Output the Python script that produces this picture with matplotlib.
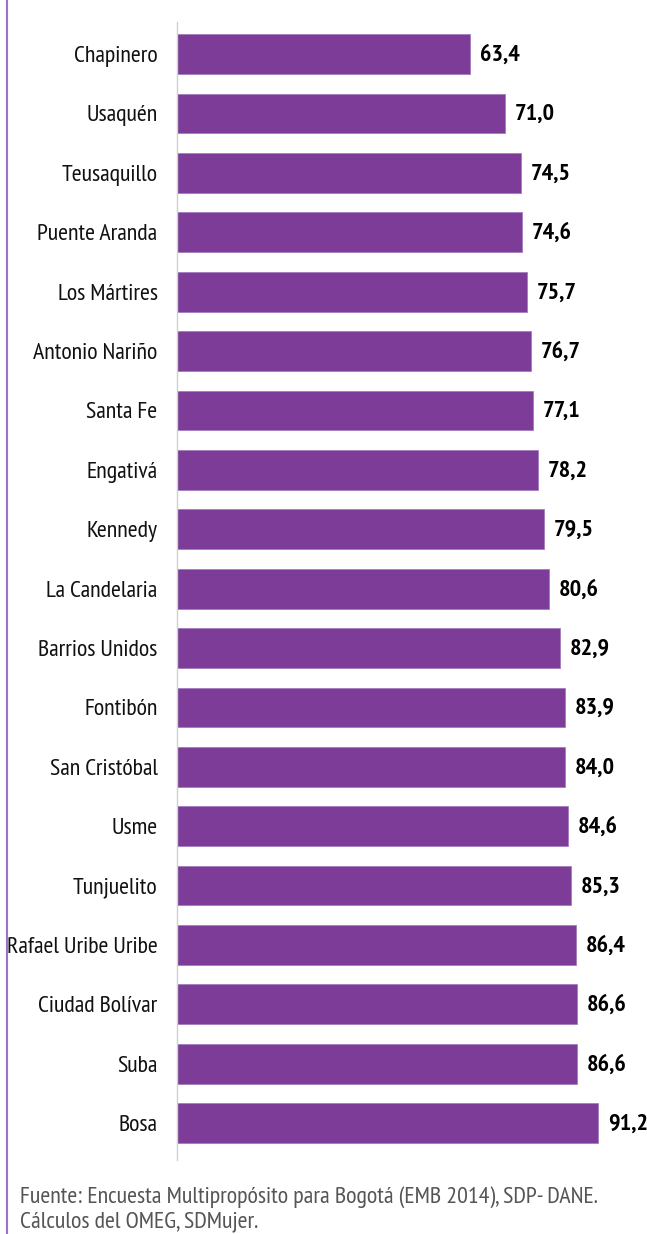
import matplotlib.pyplot as plt
from matplotlib import font_manager

# Datos: porcentaje por localidad (Bogotá)
localidades = ["Chapinero", "Usaquén", "Teusaquillo", "Puente Aranda", "Los Mártires",
               "Antonio Nariño", "Santa Fe", "Engativá", "Kennedy", "La Candelaria",
               "Barrios Unidos", "Fontibón", "San Cristóbal", "Usme", "Tunjuelito",
               "Rafael Uribe Uribe", "Ciudad Bolívar", "Suba", "Bosa"]
valores = [63.4, 71.0, 74.5, 74.6, 75.7, 76.7, 77.1, 78.2, 79.5, 80.6,
           82.9, 83.9, 84.0, 84.6, 85.3, 86.4, 86.6, 86.6, 91.2]

fuente = ["Fuente: Encuesta Multipropósito para Bogotá (EMB 2014), SDP- DANE.",
          "Cálculos del OMEG, SDMujer."]

# fuente condensada, la primera que exista
names = {f.name for f in font_manager.fontManager.ttflist}
candidatas = ["PT Sans Narrow", "Fira Sans Condensed", "Roboto Condensed",
              "Encode Sans Condensed", "Archivo Narrow", "Asap Condensed",
              "Open Sans Condensed", "Liberation Sans Narrow"]
narrow = next((c for c in candidatas if c in names), "DejaVu Sans")
plt.rcParams['font.family'] = [narrow, 'DejaVu Sans']

bar_color = "#7D3C98"

fig = plt.figure(figsize=(6.47, 12.34), dpi=100)
ax = fig.add_axes([177 / 647, 74 / 1234, 462 / 647, 1138 / 1234])

pos = list(range(len(localidades)))
ax.barh(pos, valores, height=0.67, color=bar_color, edgecolor="#A57CC0", linewidth=0.6)

for y, v in zip(pos, valores):
    ax.text(v + 2.1, y + 0.02, f"{v:.1f}".replace(".", ","), va="center", ha="left",
            fontsize=17.5, fontweight="bold", color="black")

ax.set_xlim(0, 100)
ax.set_ylim(18.62, -0.54)
ax.set_yticks(pos)
ax.set_yticklabels(localidades, fontsize=17.2, color="#111111")
ax.tick_params(axis="y", length=0, pad=14)
ax.set_xticks([])

for s in ["top", "right", "bottom"]:
    ax.spines[s].set_visible(False)
ax.spines["left"].set_color("#D0D0D0")
ax.spines["left"].set_linewidth(1.0)

# borde izquierdo morado
fig.add_artist(plt.Line2D([6.5 / 647, 6.5 / 647], [0, 1], transform=fig.transFigure,
                          color="#A070C8", linewidth=1.5))

# nota de fuente (dos renglones)
for linea, base in zip(fuente, [1203, 1227]):
    fig.text(20 / 647, 1 - base / 1234, linea, fontsize=17.3, color="#555555",
             va="baseline", ha="left")

fig.savefig("out.png", dpi=100)
